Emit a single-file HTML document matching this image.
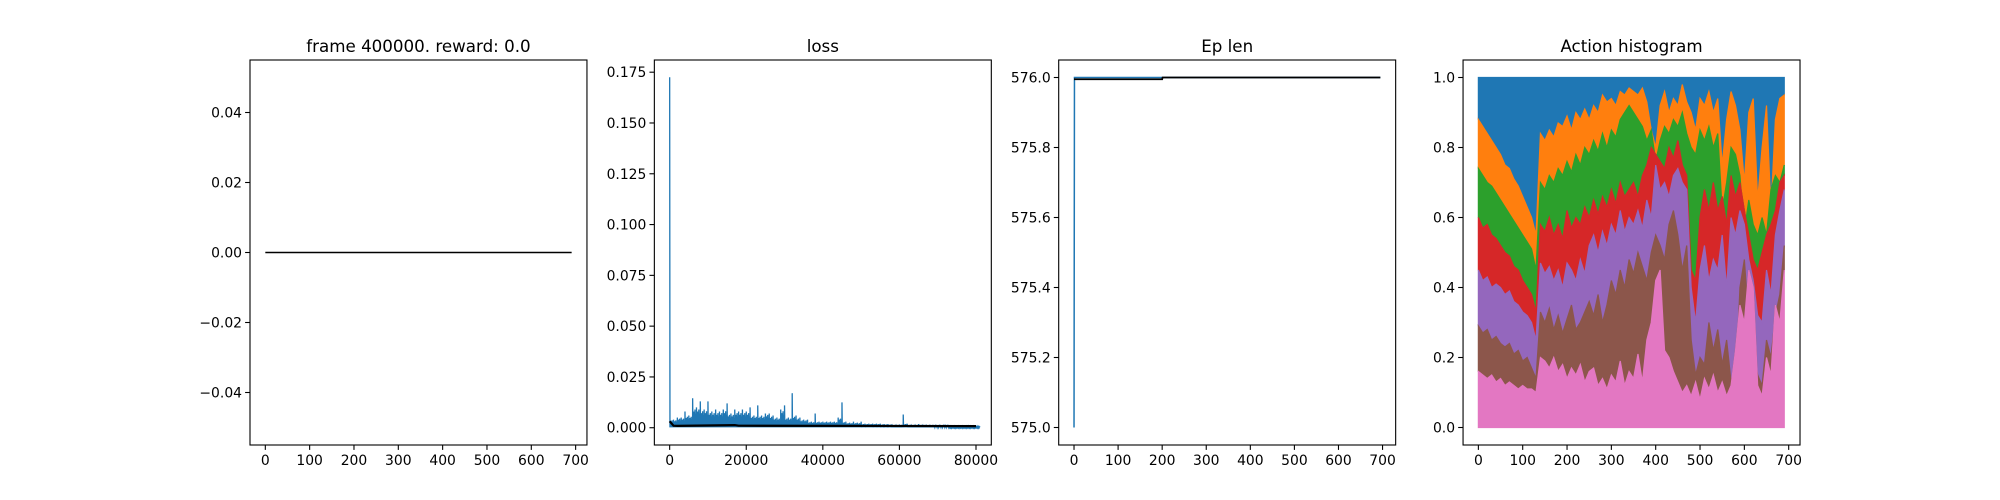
<!DOCTYPE html>
<html><head><meta charset="utf-8"><style>
html,body{margin:0;padding:0;background:#fff;}
svg{display:block;font-family:"DejaVu Sans","Liberation Sans",sans-serif;}
</style></head><body>
<svg id="fig" width="2000" height="500" viewBox="0 0 2000 500"></svg>
<script>
// ---------- data ----------
const rewardX = [0, 691];
const rewardY = [0, 0];

const lossStep = 1000;
const lossPeaks = [172.5,4,5,5,8,6,14.5,10,13,9,13,8,9,8,9,12,7,9,8,9,8,10,6,11,6,7,7,6,5,9,11,5,17,6,5,4,4,3,7,3,3,3,3,3,5,12.5,3,2.5,3,2.5,3,2,2,2,2,2,1.8,1.8,1.7,1.5,1.6,6.5,2,1.5,1.5,1.8,1.5,1.5,1.3,1.3,1.2,1.2,1.5,1.2,1,1,1,1,1.4,1,1];
const lossAvgX = [0, 1000, 2000, 17000, 18000, 80000];
const lossAvgY = [3.2, 1.0, 0.9, 1.3, 1.0, 0.8];

const epX = [0, 1, 695];
const epY = [575, 576, 576];
const epAvgX = [0, 200, 201, 695];
const epAvgY = [575.995, 575.995, 576, 576];

const histStep = 10;
const pinkTop = [0.16,0.15,0.14,0.15,0.13,0.14,0.12,0.13,0.12,0.11,0.12,0.11,0.11,0.10,
0.20,0.19,0.17,0.20,0.16,0.18,0.14,0.17,0.15,0.18,0.13,0.16,
0.17,0.12,0.14,0.11,0.15,0.13,0.19,0.12,0.16,0.14,0.21,0.13,0.25,0.30,
0.42,0.45,0.22,0.20,0.16,0.13,0.10,0.12,0.09,0.13,0.08,0.14,0.11,0.15,
0.10,0.13,0.09,0.12,0.22,0.35,0.30,0.45,0.40,0.12,0.09,0.20,0.15,0.35,0.30,0.45];
const brownTop = [0.29,0.27,0.28,0.25,0.26,0.24,0.23,0.24,0.21,0.22,0.19,0.20,0.17,0.14,
0.33,0.30,0.34,0.28,0.32,0.27,0.31,0.35,0.28,0.30,0.33,0.36,
0.32,0.38,0.30,0.35,0.42,0.38,0.45,0.40,0.48,0.44,0.50,0.46,0.42,0.50,
0.55,0.52,0.48,0.58,0.62,0.55,0.45,0.52,0.25,0.15,0.20,0.18,0.30,0.22,
0.28,0.18,0.25,0.13,0.10,0.40,0.48,0.30,0.22,0.15,0.12,0.25,0.20,0.32,0.38,0.52];
const purpleTop = [0.45,0.42,0.43,0.40,0.41,0.40,0.38,0.39,0.36,0.35,0.33,0.32,0.30,0.25,
0.47,0.44,0.46,0.42,0.45,0.40,0.47,0.45,0.42,0.48,0.44,0.52,
0.55,0.50,0.56,0.52,0.58,0.55,0.62,0.56,0.60,0.58,0.62,0.57,0.65,0.60,
0.75,0.68,0.70,0.66,0.72,0.74,0.70,0.68,0.40,0.30,0.45,0.52,0.42,0.48,
0.45,0.55,0.40,0.60,0.55,0.62,0.58,0.48,0.42,0.32,0.30,0.45,0.38,0.55,0.62,0.68];
const redTop = [0.60,0.57,0.58,0.55,0.54,0.52,0.50,0.49,0.46,0.45,0.42,0.40,0.38,0.33,
0.58,0.56,0.60,0.55,0.58,0.54,0.62,0.57,0.60,0.58,0.63,0.60,
0.65,0.61,0.66,0.63,0.68,0.64,0.70,0.66,0.68,0.70,0.66,0.72,0.75,0.80,
0.78,0.76,0.74,0.80,0.77,0.82,0.75,0.72,0.45,0.42,0.60,0.68,0.62,0.70,
0.62,0.66,0.58,0.72,0.66,0.70,0.62,0.55,0.48,0.45,0.50,0.55,0.58,0.62,0.70,0.72];
const greenTop = [0.74,0.72,0.70,0.69,0.67,0.65,0.63,0.61,0.59,0.57,0.55,0.53,0.51,0.45,
0.70,0.68,0.72,0.70,0.74,0.72,0.76,0.73,0.78,0.75,0.80,0.78,
0.82,0.79,0.84,0.80,0.85,0.83,0.88,0.90,0.92,0.90,0.88,0.86,0.82,0.85,
0.76,0.82,0.86,0.84,0.88,0.86,0.90,0.84,0.80,0.78,0.85,0.82,0.86,0.80,
0.84,0.62,0.70,0.80,0.78,0.72,0.56,0.65,0.58,0.55,0.60,0.55,0.68,0.72,0.70,0.75];
const orangeTop = [0.88,0.86,0.84,0.82,0.80,0.78,0.75,0.74,0.71,0.69,0.66,0.63,0.60,0.55,
0.84,0.82,0.85,0.83,0.87,0.86,0.89,0.85,0.90,0.88,0.91,0.88,
0.92,0.90,0.95,0.93,0.94,0.92,0.96,0.95,0.97,0.96,0.95,0.97,0.93,0.85,
0.80,0.92,0.96,0.90,0.94,0.92,0.98,0.93,0.90,0.85,0.94,0.92,0.96,0.90,
0.94,0.75,0.88,0.96,0.92,0.85,0.70,0.90,0.94,0.65,0.80,0.92,0.62,0.88,0.94,0.95];

const xTicks700 = [0,100,200,300,400,500,600,700];
const rewardYTicks = [-0.04,-0.02,0,0.02,0.04];
const rewardYLabels = ["\u22120.04","\u22120.02","0.00","0.02","0.04"];
const lossXTicks = [0,20000,40000,60000,80000];
const lossYTicks = [0,0.025,0.05,0.075,0.1,0.125,0.15,0.175];
const lossYLabels = ["0.000","0.025","0.050","0.075","0.100","0.125","0.150","0.175"];
const epYTicks = [575,575.2,575.4,575.6,575.8,576];
const epYLabels = ["575.0","575.2","575.4","575.6","575.8","576.0"];
const histYTicks = [0,0.2,0.4,0.6,0.8,1];
const histYLabels = ["0.0","0.2","0.4","0.6","0.8","1.0"];

// ---------- drawing ----------
const NS = "http://www.w3.org/2000/svg";
const svg = document.getElementById("fig");
function mk(tag, attrs, parent) {
  const e = document.createElementNS(NS, tag);
  for (const k in attrs) e.setAttribute(k, attrs[k]);
  (parent || svg).appendChild(e);
  return e;
}
const TOP = 60, BOT = 445, W = 336.96;
function makeAxes(idx, xmin, xmax, ymin, ymax, name) {
  const left = 250 + idx * W * 1.2;
  const g = mk("g", {});
  
  
  const sx = v => left + (v - xmin) / (xmax - xmin) * W;
  const sy = v => BOT - (v - ymin) / (ymax - ymin) * (BOT - TOP);
  return {g, left, sx, sy};
}
function finishAxes(ax, title, xt, xl, yt, yl) {
  const {g, left, sx, sy} = ax;
  const frame = mk("rect", {x:left, y:TOP, width:W, height:BOT-TOP, fill:"none", stroke:"#000", "stroke-width":1.1}, g);
  
  
  xt.forEach((v, i) => {
    const x = sx(v);
    mk("line", {x1:x, x2:x, y1:BOT, y2:BOT+4.9, stroke:"#000", "stroke-width":1.1}, g);
    const t = mk("text", {x:x, y:BOT+20, "font-size":13.9, "text-anchor":"middle", fill:"#000"}, g);
    
    
    t.textContent = xl[i];
  });
  yt.forEach((v, i) => {
    const y = sy(v);
    mk("line", {x1:left-4.9, x2:left, y1:y, y2:y, stroke:"#000", "stroke-width":1.1}, g);
    const t = mk("text", {x:left-8, y:y+5, "font-size":13.9, "text-anchor":"end", fill:"#000"}, g);
    
    
    t.textContent = yl[i];
  });
  const tt = mk("text", {x:left+W/2, y:TOP-8, "font-size":16.7, "text-anchor":"middle", fill:"#000"}, g);
  
  
  tt.textContent = title;
}
function polyline(ax, xs, ys, color, width, name) {
  const pts = xs.map((x, i) => ax.sx(x).toFixed(2) + "," + ax.sy(ys[i]).toFixed(2)).join(" ");
  const p = mk("polyline", {points:pts, fill:"none", stroke:color, "stroke-width":width}, ax.g);
  
  
  return p;
}

// Panel 1: reward
const a1 = makeAxes(0, -34.55, 725.55, -0.055, 0.055, "reward-panel");
polyline(a1, rewardX, rewardY, "#000", 1.5, "reward-line");
finishAxes(a1, "frame 400000. reward: 0.0", xTicks700, xTicks700.map(String), rewardYTicks, rewardYLabels);

// Panel 2: loss
const a2 = makeAxes(1, -4000, 84000, -0.0085, 0.181, "loss-panel");
{
  const xs = [], ys = [];
  lossPeaks.forEach((p, i) => {
    const x = i * lossStep;
    const nxt = i + 1 < lossPeaks.length ? lossPeaks[i + 1] : p;
    const base = Math.min(p, nxt);
    xs.push(x); ys.push(p / 1000);
    const subs = [0.5, 0.8, 0.6, 0.9, 0.55, 0.7];
    subs.forEach((f, k) => {
      xs.push(x + lossStep * (k + 0.5) / 6.5); ys.push(0.0002);
      xs.push(x + lossStep * (k + 1) / 6.5); ys.push(base * f / 1000);
    });
    xs.push(x + lossStep * 0.98); ys.push(0.0002);
  });
  polyline(a2, xs, ys, "#1f77b4", 1.3, "loss-line");
  polyline(a2, lossAvgX, lossAvgY.map(v => v / 1000), "#000", 2.2, "loss-average-line");
}
finishAxes(a2, "loss", lossXTicks, lossXTicks.map(String), lossYTicks, lossYLabels);

// Panel 3: ep len
const a3 = makeAxes(2, -34.75, 729.75, 574.95, 576.05, "ep-len-panel");
polyline(a3, epX, epY, "#1f77b4", 1.5, "ep-len-line");
polyline(a3, epAvgX, epAvgY, "#000", 1.8, "ep-len-average-line");
finishAxes(a3, "Ep len", xTicks700, xTicks700.map(String), epYTicks, epYLabels);

// Panel 4: action histogram (stacked)
const a4 = makeAxes(3, -34.55, 725.55, -0.05, 1.05, "action-histogram-panel");
{
  const ones = pinkTop.map(() => 1);
  const zeros = pinkTop.map(() => 0);
  const layers = [
    [orangeTop, ones, "#1f77b4", "action-0-area"],
    [greenTop, orangeTop, "#ff7f0e", "action-1-area"],
    [redTop, greenTop, "#2ca02c", "action-2-area"],
    [purpleTop, redTop, "#d62728", "action-3-area"],
    [brownTop, purpleTop, "#9467bd", "action-4-area"],
    [pinkTop, brownTop, "#8c564b", "action-5-area"],
    [zeros, pinkTop, "#e377c2", "action-6-area"]
  ];
  layers.forEach(([lo, hi, col, nm]) => {
    const top = hi.map((v, i) => a4.sx(Math.min(i * histStep, 691)).toFixed(2) + "," + a4.sy(v).toFixed(2));
    const bot = lo.map((v, i) => a4.sx(Math.min(i * histStep, 691)).toFixed(2) + "," + a4.sy(v).toFixed(2)).reverse();
    const p = mk("polygon", {points: top.concat(bot).join(" "), fill: col, stroke: col, "stroke-width": 1.2}, a4.g);
    
    
  });
}
finishAxes(a4, "Action histogram", xTicks700, xTicks700.map(String), histYTicks, histYLabels);
</script>
</body></html>
